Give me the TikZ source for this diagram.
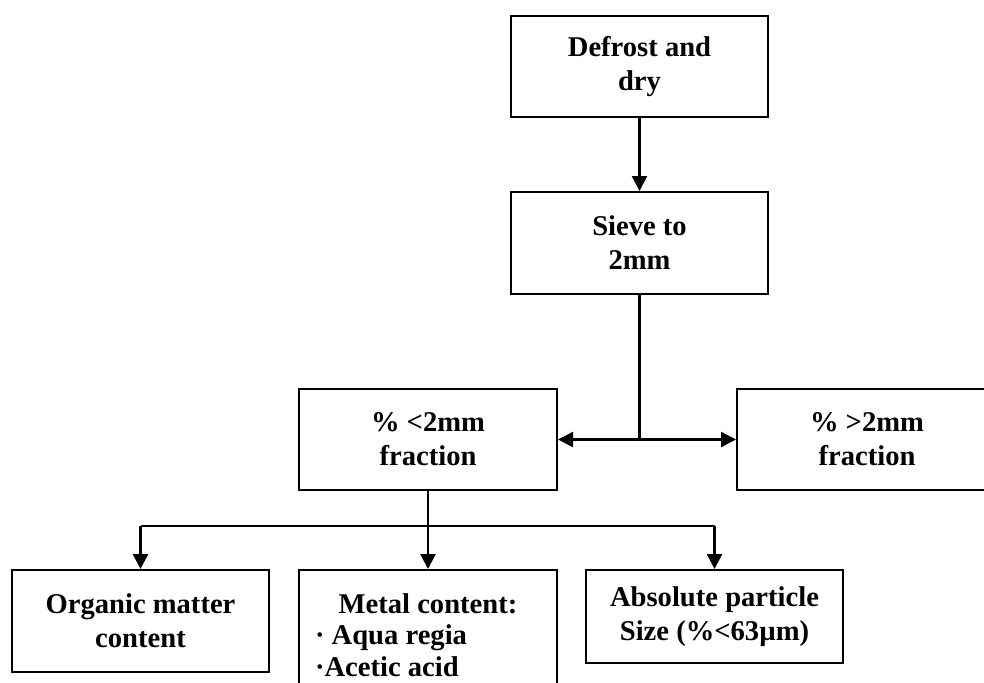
\documentclass[tikz,border=0pt]{standalone}
\usepackage{fontspec}
\setmainfont{Liberation Serif}
\usepackage{tikz}
\usetikzlibrary{arrows.meta,positioning,calc}

\tikzset{
  stepbox/.style={draw, line width=1pt, align=center, inner sep=0pt,
    font=\fontsize{14.3}{17}\selectfont\bfseries},
  flowline/.style={line width=1.2pt},
  flowarrow/.style={flowline, -{Triangle[length=7.5pt,width=7.5pt]}}
}

\begin{document}
\begin{tikzpicture}[x=0.5pt,y=-0.5pt]
\useasboundingbox (0,0) rectangle (984,682);
% sample preparation
\node[stepbox, minimum width=128.5pt, minimum height=50.5pt] (defrost) at (639.5,66.5) {Defrost and\\dry};
\node[stepbox, minimum width=128.5pt, minimum height=51pt] (sieve) at (639.5,243) {Sieve to\\2mm};
\node[stepbox, minimum width=129pt, minimum height=50.5pt] (fine) at (428,439.5) {\% <2mm\\fraction};
\node[stepbox, minimum width=130pt, minimum height=50.5pt] (coarse) at (867,439.5) {\% >2mm\\fraction};
% analyses on the fine fraction
\node[stepbox, minimum width=128.5pt, minimum height=51pt] (organic) at (140.5,621) {Organic matter\\content};
\node[stepbox, minimum width=129pt, minimum height=65pt, text width=113pt, align=left,
      font=\fontsize{14.3}{15.6}\selectfont\bfseries] (metal) at (428,635)
      {\spaceskip=0pt \xspaceskip=0pt
       \centering Metal content:\par\raggedright · Aqua regia\\·Acetic acid};
\node[stepbox, minimum width=128.5pt, minimum height=46.5pt] (size) at (714.5,616.5) {Absolute particle\\Size (\%<63µm)};

\draw[flowarrow] (defrost) -- (sieve);
\coordinate (split) at (sieve.south |- fine.east);
\draw[flowline] (sieve) -- (split);
\draw[flowarrow] (split) -- (fine);
\draw[flowarrow] (split) -- (coarse);

\coordinate (branch) at ($(fine.south)+(0,35)$);
\draw[flowline] (fine) -- (branch);
\draw[flowline] (organic.north |- branch) -- (size.north |- branch);
\foreach \n in {organic,metal,size}
  \draw[flowarrow] (\n.north |- branch) -- (\n);
\end{tikzpicture}
\end{document}
